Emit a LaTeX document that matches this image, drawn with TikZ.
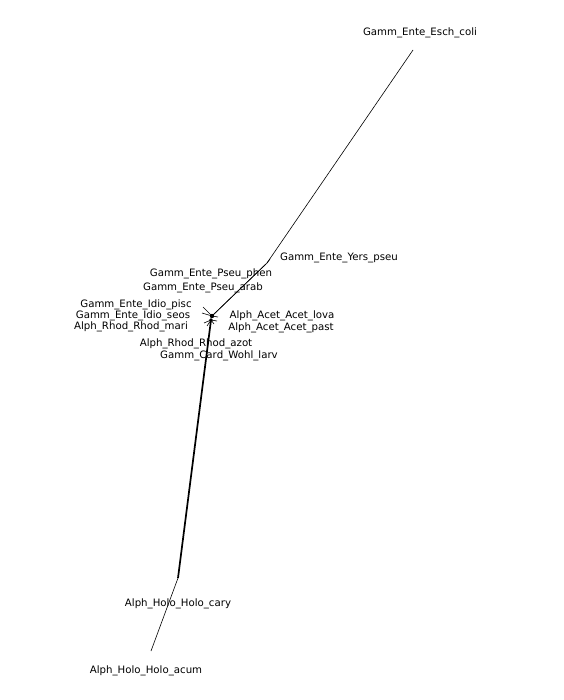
\documentclass[tikz,border=0pt]{standalone}
\usepackage{fontspec}
\setmainfont{DejaVu Sans}
\begin{document}
\begin{tikzpicture}[x=1pt,y=-1pt,
  lab/.style={font=\fontsize{10.2}{12}\selectfont, inner sep=0pt},
  br/.style={line width=0.6pt, black},
  thick br/.style={line width=1.7pt, black}]
\useasboundingbox[fill=white] (0,0) rectangle (563,700);
% labels
\node[lab] (esch) at (420,32.5) {Gamm\_Ente\_Esch\_coli};
\node[lab] (yers) at (339,257.5) {Gamm\_Ente\_Yers\_pseu};
\node[lab] (phen) at (211,273.5) {Gamm\_Ente\_Pseu\_phen};
\node[lab] (arab) at (203,287.5) {Gamm\_Ente\_Pseu\_arab};
\node[lab] (pisc) at (136,304.5) {Gamm\_Ente\_Idio\_pisc};
\node[lab] (seos) at (133,315.5) {Gamm\_Ente\_Idio\_seos};
\node[lab] (mari) at (131,326.5) {Alph\_Rhod\_Rhod\_mari};
\node[lab] (lova) at (282,315.5) {Alph\_Acet\_Acet\_lova};
\node[lab] (past) at (281,327.5) {Alph\_Acet\_Acet\_past};
\node[lab] (azot) at (196,343.5) {Alph\_Rhod\_Rhod\_azot};
\node[lab] (wohl) at (219,355.5) {Gamm\_Card\_Wohl\_larv};
\node[lab] (cary) at (178,603.5) {Alph\_Holo\_Holo\_cary};
\node[lab] (acum) at (146,670.5) {Alph\_Holo\_Holo\_acum};
% tree coordinates
\coordinate (tEsch) at (413,50);
\coordinate (nY) at (267,263);
\coordinate (tYers) at (270,259);
\coordinate (nC) at (212,316);
\coordinate (nC2) at (211,320);
\coordinate (tPisc) at (203,307);
\coordinate (tSeos) at (202,313);
\coordinate (tMari) at (204,323);
\coordinate (tLova) at (218,317);
\coordinate (tPast) at (217,321);
\coordinate (tAzot) at (207,326);
\coordinate (tWohl) at (214,324);
\coordinate (nH) at (178,578);
\coordinate (tAcum) at (151,651);
% branches
\draw[br] (tEsch) -- (nY);
\draw[br] (nY) -- (tYers);
\draw[br] ([xshift=-1pt,yshift=-1pt]nY) -- ([xshift=-1pt,yshift=-1pt]nC);
\draw[br] ([xshift=1pt,yshift=1pt]nY) -- ([xshift=1pt,yshift=1pt]nC);
\fill (nC) circle (2.2pt);
\fill (nC2) circle (1.8pt);
\draw[br] (nC) -- (tPisc);
\draw[br] (nC) -- (tSeos);
\draw[br] (nC2) -- (tMari);
\draw[br] (nC) -- (tLova);
\draw[br] (nC2) -- (tPast);
\draw[br] (nC2) -- (tAzot);
\draw[br] (nC2) -- (tWohl);
\draw[thick br] (nC2) -- (nH);
\draw[br] (nH) -- (tAcum);
\end{tikzpicture}
\end{document}
